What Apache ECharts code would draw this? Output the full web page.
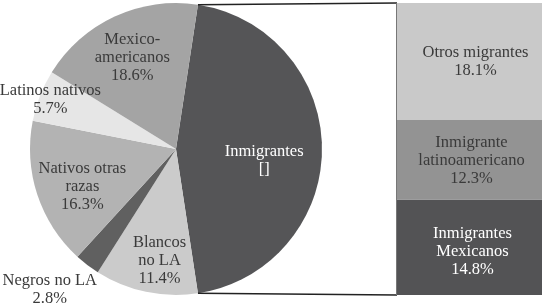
<!DOCTYPE html>
<html>
<head>
<meta charset="utf-8">
<script src="https://cdn.jsdelivr.net/npm/echarts@6/dist/echarts.min.js"></script>
<style>html,body{margin:0;padding:0;background:#fff}#c{width:548px;height:305px}</style>
</head>
<body>
<div id="c"></div>
<script>
// ---- data ----
const pieNames = ['Inmigrantes', 'Blancos\nno LA', 'Negros no LA', 'Nativos otras\nrazas', 'Latinos nativos', 'Mexico-\namericanos'];
const pieValues = [45.2, 11.4, 2.8, 16.3, 5.7, 18.6];
const barNames = ['Inmigrantes\nMexicanos', 'Inmigrante\nlatinoamericano', 'Otros migrantes'];
const barValues = [14.8, 12.3, 18.1];

// ---- styles / layout ----
const pieColors = ['#555557', '#cbcbcb', '#606060', '#b3b3b3', '#e6e6e6', '#a4a4a4'];
const pieText = ['#ffffff', '#3a3a3a', '#3a3a3a', '#3a3a3a', '#3a3a3a', '#3a3a3a'];
const barColors = ['#535355', '#939393', '#c9c9c9'];
const barText = ['#ffffff', '#3a3a3a', '#3a3a3a'];
const barLabelOffset = [[3, 4], [2, 1], [6, 0]];
const CX = 176, CY = 149, R = 146;
const labelRadius = [0.6, 0.75, 1.29, 0.69, 0.93, 0.70];
const labelExtra = [[-3, 12], [7, 0], [-7, -15], [6, 5], [6, 2], [1, 5]];
const FONT = 'Liberation Serif';
const FS = 16.5;

const pieTotal = pieValues.reduce((a, b) => a + b, 0);
const barTotal = barValues.reduce((a, b) => a + b, 0);
const startAngle = pieValues[0] / pieTotal * 360 / 2;
const gridLeft = 397, gridRight = 6, gridTop = 3, gridBottom = 10;

const chart = echarts.init(document.getElementById('c'), null, {renderer: 'canvas'});

const pieData = pieNames.map((n, i) => ({
  name: n, value: pieValues[i],
  itemStyle: {color: pieColors[i]},
  label: {color: pieText[i], formatter: (i === 0 ? 'Inmigrantes\n[]' : n + '\n' + pieValues[i].toFixed(1) + '%')}
}));

const barSeries = barNames.map((n, i) => ({
  name: n, type: 'bar', stack: 'inm', barWidth: '100%',
  data: [barValues[i]],
  itemStyle: {color: barColors[i]},
  label: {
    show: true, position: 'inside', color: barText[i], offset: barLabelOffset[i],
    fontFamily: FONT, fontSize: FS, lineHeight: 18,
    formatter: (p) => n + '\n' + p.value.toFixed(1) + '%'
  },
  silent: true, animation: false
}));

const a0 = startAngle * Math.PI / 180;
const pTop = [CX + R * Math.cos(a0), CY - R * Math.sin(a0)];
const pBot = [CX + R * Math.cos(a0), CY + R * Math.sin(a0)];
const H = 305;

chart.setOption({
  animation: false,
  grid: {left: gridLeft, right: gridRight, top: gridTop, bottom: gridBottom},
  xAxis: {type: 'category', data: ['Inmigrantes'], show: false},
  yAxis: {type: 'value', min: 0, max: barTotal, show: false},
  series: [{
    type: 'pie',
    center: [CX, CY], radius: [0, R],
    startAngle: startAngle, clockwise: true,
    avoidLabelOverlap: false,
    label: {show: true, position: 'inside', fontFamily: FONT, fontSize: FS, lineHeight: 18},
    labelLine: {show: false},
    labelLayout: function (p) {
      const rc = p.labelRect;
      const lx = rc.x + rc.width / 2, ly = rc.y + rc.height / 2;
      const ux = (lx - CX) / (R / 2), uy = (ly - CY) / (R / 2);
      const t = labelRadius[p.dataIndex] * R - R / 2;
      const e = labelExtra[p.dataIndex];
      return {dx: ux * t + e[0], dy: uy * t + e[1]};
    },
    data: pieData,
    silent: true
  }].concat(barSeries),
  graphic: [
    {type: 'line', shape: {x1: pTop[0], y1: pTop[1], x2: gridLeft, y2: gridTop}, style: {stroke: '#222', lineWidth: 1.5}, z: 10},
    {type: 'line', shape: {x1: pBot[0], y1: pBot[1], x2: gridLeft, y2: H - gridBottom}, style: {stroke: '#222', lineWidth: 1.5}, z: 10},
    {type: 'line', shape: {x1: gridLeft - 0.5, y1: gridTop, x2: gridLeft - 0.5, y2: H - gridBottom}, style: {stroke: '#777', lineWidth: 1}, z: 10}
  ]
});
</script>
</body>
</html>
